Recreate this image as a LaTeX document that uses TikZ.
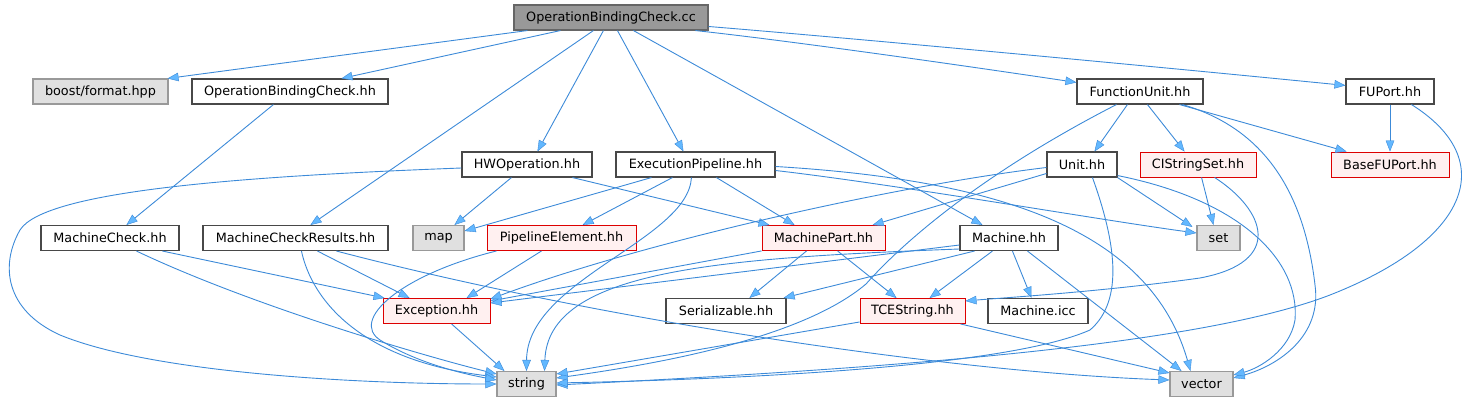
\documentclass[tikz,border=0pt]{standalone}
\usepackage{fontspec}
\setmainfont{DejaVu Sans}
\usetikzlibrary{arrows.meta}
\definecolor{edgec}{HTML}{3C8AD8}
\definecolor{arrowc}{HTML}{63B8FF}
\definecolor{nborder}{HTML}{484848}
\definecolor{rborder}{HTML}{DD0000}
\definecolor{rfill}{HTML}{FFF0F0}
\definecolor{sysfill}{HTML}{E0E0E0}
\definecolor{sysborder}{HTML}{999999}
\definecolor{rootfill}{HTML}{999999}
\definecolor{rootborder}{HTML}{666666}
\begin{document}
\begin{tikzpicture}[x=1pt,y=-1pt,
  box/.style={draw=nborder, fill=white, line width=1.1pt, minimum height=25pt, inner sep=0pt,
    font=\fontsize{12.8}{14}\selectfont, text=black},
  rootbox/.style={box, draw=rootborder, fill=rootfill},
  redbox/.style={box, draw=rborder, fill=rfill, line width=0.9pt},
  sysbox/.style={box, draw=sysborder, fill=sysfill},
  edge/.style={draw=edgec, line width=0.9pt,
    -{Triangle[length=11pt,width=8.5pt,fill=arrowc,line width=0.4pt]}}]
\useasboundingbox (0,0) rectangle (1473,403);
% row 0
\node[rootbox, minimum width=194pt] (cc) at (611,17.5) {OperationBindingCheck.cc};
% row 1
\node[sysbox, minimum width=135pt] (boost) at (100.5,91.5) {boost/format.hpp};
\node[box, minimum width=196pt] (obch) at (290,91.5) {OperationBindingCheck.hh};
\node[box, minimum width=126pt] (fu) at (1140,91.5) {FunctionUnit.hh};
\node[box, minimum width=88pt] (fup) at (1390,91.5) {FUPort.hh};
% row 2
\node[box, minimum width=130pt] (hwop) at (527,164.5) {HWOperation.hh};
\node[box, minimum width=159pt] (ep) at (695.5,164.5) {ExecutionPipeline.hh};
\node[box, minimum width=70pt] (unit) at (1082,164.5) {Unit.hh};
\node[redbox, minimum width=116pt] (cis) at (1198,164.5) {CIStringSet.hh};
\node[redbox, minimum width=118pt] (bfup) at (1390,164.5) {BaseFUPort.hh};
% row 3
\node[box, minimum width=138pt] (mc) at (110,238) {MachineCheck.hh};
\node[box, minimum width=185pt] (mcr) at (295.5,238) {MachineCheckResults.hh};
\node[sysbox, minimum width=51pt] (map) at (438.5,238) {map};
\node[redbox, minimum width=149pt] (pe) at (561.5,238) {PipelineElement.hh};
\node[redbox, minimum width=123pt] (mp) at (823.5,238) {MachinePart.hh};
\node[box, minimum width=98pt] (mach) at (1009,238) {Machine.hh};
\node[sysbox, minimum width=43pt] (set) at (1218.5,238) {set};
% row 4
\node[redbox, minimum width=107pt] (exc) at (436.5,311) {Exception.hh};
\node[box, minimum width=120pt] (ser) at (726,311) {Serializable.hh};
\node[redbox, minimum width=105pt] (tce) at (912.5,311) {TCEString.hh};
\node[box, minimum width=100pt] (micc) at (1038,311) {Machine.icc};
% row 5
\node[sysbox, minimum width=59pt] (str) at (526.5,384) {string};
\node[sysbox, minimum width=63pt] (vec) at (1201.5,384) {vector};

% edges from root
\draw[edge] ([xshift=14pt]cc.south west) -- ([xshift=-1pt]boost.north east);
\draw[edge] ([xshift=47pt]cc.south west) -- ([xshift=150pt]obch.north west);
\draw[edge] ([xshift=80pt]cc.south west) -- ([xshift=108pt]mcr.north west);
\draw[edge] ([xshift=90pt]cc.south west) -- ([xshift=76pt]hwop.north west);
\draw[edge] ([xshift=104pt]cc.south west) -- ([xshift=68pt]ep.north west);
\draw[edge] ([xshift=120pt]cc.south west) -- ([xshift=23pt]mach.north west);
\draw[edge] ([xshift=182pt]cc.south west) .. controls (800,42) and (980,68) .. ([yshift=-4pt]fu.north west);
\draw[edge] ([yshift=-9pt]cc.east) .. controls (850,38) and (1150,66) .. ([yshift=-7pt]fup.north west);
% OperationBindingCheck.hh
\draw[edge] ([xshift=82pt]obch.south west) -- ([xshift=86pt]mc.north west);
% MachineCheck.hh
\draw[edge] ([xshift=122pt]mc.south west) -- ([xshift=2pt]exc.north west);
\draw[edge] ([xshift=96pt]mc.south west) .. controls (250,305) and (420,355) .. ([yshift=10pt]str.west);
% MachineCheckResults.hh
\draw[edge] ([xshift=115pt]mcr.south west) -- ([xshift=27pt]exc.north west);
\draw[edge] ([xshift=99pt]mcr.south west) .. controls (312,300) and (360,360) .. ([yshift=7pt]str.west);
\draw[edge] ([xshift=134pt]mcr.south west) .. controls (600,320) and (950,372) .. ([yshift=4pt]vec.west);
% HWOperation.hh
\draw[edge] ([xshift=50pt]hwop.south west) -- ([xshift=42pt]map.north west);
\draw[edge] ([xshift=111pt]hwop.south west) -- ([xshift=8pt]mp.north west);
\draw[edge] ([yshift=-3.5pt]hwop.west) .. controls (250,176) and (45,190) .. (20,230)
   .. controls (0,265) and (5,310) .. (60,335) .. controls (150,372) and (350,384) .. (str.west);
% ExecutionPipeline.hh
\draw[edge] ([xshift=36pt]ep.south west) -- ([yshift=7pt]map.east);
\draw[edge] ([xshift=57pt]ep.south west) -- ([xshift=96pt]pe.north west);
\draw[edge] ([xshift=101pt]ep.south west) -- ([xshift=33pt]mp.north west);
\draw[edge] ([xshift=76pt]ep.south west) .. controls (688,240) and (527,280) .. (str.north);
\draw[edge] ([yshift=-6pt]ep.east) .. controls (900,185) and (1100,220) .. ([yshift=5pt]set.west);
\draw[edge] ([yshift=-2pt]ep.east) .. controls (1000,180) and (1150,230) .. ([xshift=-11pt]vec.north);
% PipelineElement.hh
\draw[edge] ([xshift=55pt]pe.south west) -- ([xshift=84pt]exc.north west);
\draw[edge] ([xshift=10pt]pe.south west) .. controls (400,275) and (350,320) .. (380,340)
   .. controls (420,365) and (470,375) .. ([yshift=4pt]str.west);
% MachinePart.hh
\draw[edge] (mp.south west) -- ([yshift=10pt]exc.east);
\draw[edge] ([xshift=45pt]mp.south west) -- ([xshift=84pt]ser.north west);
\draw[edge] ([xshift=76pt]mp.south west) -- ([xshift=37pt]tce.north west);
% Machine.hh
\draw[edge] ([yshift=-7pt]mach.west) -- ([yshift=8pt]exc.east);
\draw[edge] ([yshift=-11pt]mach.west) .. controls (720,258) and (548,270) .. ([xshift=18pt]str.north);
\draw[edge] ([xshift=15pt]mach.south west) -- ([xshift=-3pt]ser.north east);
\draw[edge] ([xshift=33pt]mach.south west) -- ([xshift=70pt]tce.north west);
\draw[edge] ([xshift=53pt]mach.south west) -- ([xshift=44pt]micc.north west);
\draw[edge] ([xshift=68pt]mach.south west) -- ([xshift=-20pt]vec.north);
% FunctionUnit.hh
\draw[edge] ([xshift=51pt]fu.south west) -- ([xshift=48pt]unit.north west);
\draw[edge] ([xshift=71pt]fu.south west) -- ([xshift=45pt]cis.north west);
\draw[edge] ([xshift=103pt]fu.south west) -- ([xshift=16pt]bfup.north west);
\draw[edge] ([xshift=106pt]fu.south west) .. controls (1270,130) and (1305,200) .. (1315,285)
   .. controls (1322,335) and (1280,365) .. ([yshift=6pt]vec.east);
\draw[edge] ([xshift=40pt]fu.south west) .. controls (985,172) and (905,240) .. (866,284)
   .. controls (800,340) and (650,365) .. ([yshift=6pt]str.east);
% FUPort.hh
\draw[edge] (fup.south) -- (bfup.north);
\draw[edge] ([xshift=66pt]fup.south west) .. controls (1500,160) and (1470,240) .. (1330,295)
   .. controls (1200,345) and (900,368) .. ([yshift=-1pt]str.east);
% Unit.hh
\draw[edge] ([yshift=-9pt]unit.west) -- ([xshift=111pt]mp.north west);
\draw[edge] ([yshift=-3pt]unit.west) .. controls (900,185) and (650,240) .. ([yshift=12pt]exc.east);
\draw[edge] (unit.south east) -- ([xshift=-4pt,yshift=-2pt]set.north west);
\draw[edge] ([yshift=2pt]unit.south east) .. controls (1240,200) and (1300,260) .. (1295,320)
   .. controls (1290,350) and (1260,368) .. ([yshift=9pt]vec.east);
\draw[edge] ([xshift=46pt]unit.south west) .. controls (1115,240) and (1125,300) .. (1090,330)
   .. controls (1000,370) and (700,380) .. ([yshift=1pt]str.east);
% CIStringSet.hh
\draw[edge] ([xshift=62pt]cis.south west) -- ([xshift=-5pt]set.north);
\draw[edge] ([xshift=75pt]cis.south west) .. controls (1265,210) and (1285,262) .. (1200,278)
   .. controls (1100,292) and (1000,298) .. ([yshift=10pt]tce.east);
% Exception.hh
\draw[edge] ([xshift=69pt]exc.south west) -- ([xshift=8pt]str.north west);
% TCEString.hh
\draw[edge] ([yshift=-11pt]tce.west) -- ([yshift=10pt]str.east);
\draw[edge] ([xshift=-5pt]tce.south east) -- ([yshift=11pt]vec.west);
\end{tikzpicture}
\end{document}
